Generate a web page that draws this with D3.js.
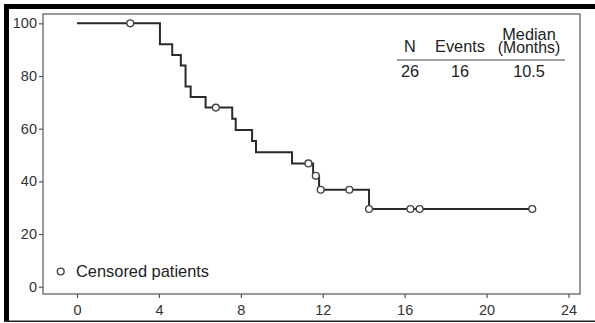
<!DOCTYPE html>
<html>
<head>
<meta charset="utf-8">
<script src="https://cdn.jsdelivr.net/npm/d3@7"></script>
<style>
  html, body { margin: 0; padding: 0; background: #fff; }
  svg { display: block; font-family: "Liberation Sans", Arial, sans-serif; }
</style>
</head>
<body>
<svg id="chart" width="595" height="323"></svg>
<script>
// Kaplan-Meier step curve: time (months) at each step and survival (%) after it
const stepTimes = [0, 4.05, 4.65, 5.07, 5.3, 5.55, 6.28, 7.58, 7.75, 8.55, 8.74, 10.5, 11.53, 11.82, 14.26];
const survival  = [100, 92, 88, 84, 76, 72, 68, 63.8, 59.5, 55.3, 51, 46.8, 42.1, 36.8, 29.5];
const followUpEnd = 22.23;

// Censored observations
const censorTimes = [2.6, 6.78, 11.3, 11.66, 11.9, 13.3, 14.26, 16.28, 16.73, 22.23];
const censorSurv  = [100, 68, 46.8, 42.1, 36.8, 36.8, 29.5, 29.5, 29.5, 29.5];

// Axis ticks
const xTicks = [0, 4, 8, 12, 16, 20, 24];
const yTicks = [0, 20, 40, 60, 80, 100];

// Summary table
const tableHeaders = ["N", "Events", "Median"];
const tableValues = ["26", "16", "10.5"];

const svg = d3.select("#chart");

// Outer frame strokes
svg.append("rect").attr("x", 4).attr("y", 4).attr("width", 591).attr("height", 5).attr("fill", "#000");
svg.append("rect").attr("x", 4).attr("y", 4).attr("width", 5).attr("height", 318).attr("fill", "#000");
svg.append("rect").attr("x", 4).attr("y", 320.5).attr("width", 591).attr("height", 1.5).attr("fill", "#222");

const box = { left: 43, top: 14, right: 580, bottom: 294 };

const x = d3.scaleLinear().domain([0, 24]).range([77, 568.5]);
const y = d3.scaleLinear().domain([0, 100]).range([286.7, 23.3]);

// Plot frame
svg.append("rect")
  .attr("x", box.left).attr("y", box.top)
  .attr("width", box.right - box.left).attr("height", box.bottom - box.top)
  .attr("fill", "none").attr("stroke", "#555").attr("stroke-width", 1.2);

// Y axis
const yAxis = svg.append("g")
  .attr("transform", `translate(${box.left},0)`)
  .call(d3.axisLeft(y).tickValues(yTicks).tickSize(4).tickPadding(2));
// X axis
const xAxis = svg.append("g")
  .attr("transform", `translate(0,${box.bottom})`)
  .call(d3.axisBottom(x).tickValues(xTicks).tickSize(4).tickPadding(7));

[yAxis, xAxis].forEach(g => {
  g.select(".domain").remove();
  g.selectAll(".tick line").attr("stroke", "#555").attr("stroke-width", 1.2);
  g.selectAll(".tick text").attr("fill", "#333").style("font-size", "14.5px")
    .style("font-family", '"Liberation Sans", Arial, sans-serif');
});

// Survival curve
const pts = stepTimes.map((t, i) => [t, survival[i]]);
pts.push([followUpEnd, survival[survival.length - 1]]);
const line = d3.line().x(d => x(d[0])).y(d => y(d[1])).curve(d3.curveStepAfter);
svg.append("path")
  .datum(pts)
  .attr("d", line)
  .attr("fill", "none")
  .attr("stroke", "#2a2a2a")
  .attr("stroke-width", 2);

// Censor marks
svg.append("g").selectAll("circle")
  .data(censorTimes.map((t, i) => [t, censorSurv[i]]))
  .join("circle")
  .attr("cx", d => x(d[0])).attr("cy", d => y(d[1]))
  .attr("r", 3.4)
  .attr("fill", "#fff").attr("stroke", "#444").attr("stroke-width", 1.4);

// Summary table
const colX = [410, 460, 529];
const tbl = svg.append("g").attr("fill", "#222").style("font-size", "16.3px").attr("text-anchor", "middle");
tbl.append("text").attr("x", colX[0]).attr("y", 52).text(tableHeaders[0]);
tbl.append("text").attr("x", colX[1]).attr("y", 52).text(tableHeaders[1]);
tbl.append("text").attr("x", colX[2]).attr("y", 39.5).text(tableHeaders[2]);
tbl.append("text").attr("x", colX[2]).attr("y", 53).style("font-size", "15.8px").text("(Months)");
svg.append("line").attr("x1", 397).attr("x2", 565).attr("y1", 60).attr("y2", 60)
  .attr("stroke", "#444").attr("stroke-width", 1.2);
tableValues.forEach((v, i) => {
  tbl.append("text").attr("x", colX[i]).attr("y", 77).text(v);
});

// Legend
svg.append("circle").attr("cx", 60.7).attr("cy", 271.5).attr("r", 3.4)
  .attr("fill", "#fff").attr("stroke", "#444").attr("stroke-width", 1.4);
svg.append("text").attr("x", 76).attr("y", 276.5)
  .attr("fill", "#222").style("font-size", "16.4px")
  .text("Censored patients");
</script>
</body>
</html>
